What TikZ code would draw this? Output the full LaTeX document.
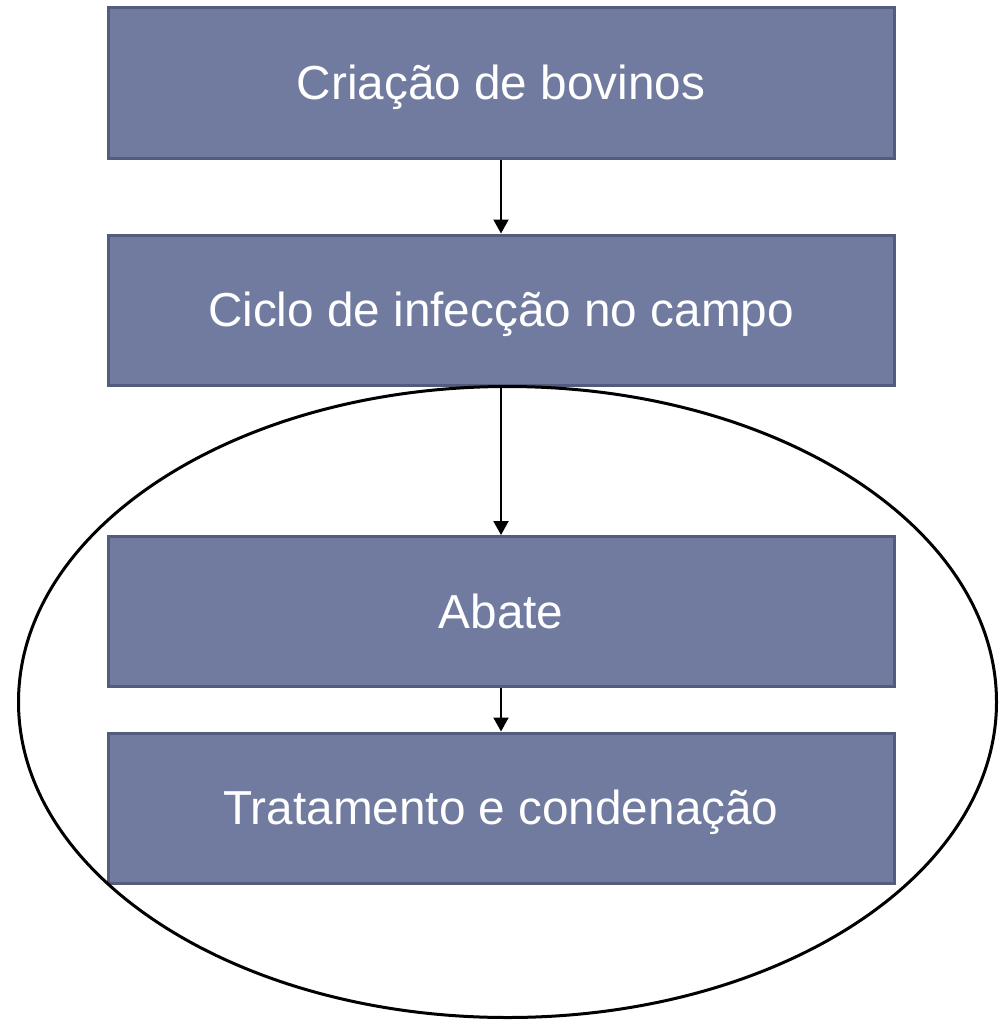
\documentclass[tikz,border=0pt]{standalone}
\usepackage{fontspec}
\setmainfont{Liberation Sans}
\usetikzlibrary{arrows.meta,shapes.geometric}
\definecolor{boxfill}{RGB}{113,123,160}
\definecolor{boxline}{RGB}{84,92,126}
\begin{document}
\begin{tikzpicture}[x=1pt,y=-1pt,
  stepbox/.style={draw=boxline,line width=3pt,fill=boxfill,minimum width=786pt,minimum height=150pt,inner sep=0pt,text height=40pt,text depth=7pt,text=white,font=\fontsize{47.7}{56}\selectfont,anchor=center},
  conn/.style={line width=2pt,-{Triangle[width=15pt,length=14pt]}}]
\useasboundingbox (0,0) rectangle (1000,1022);
\node[stepbox] (b1) at (501,83) {Criação de bovinos};
\node[stepbox] (b2) at (501,310) {Ciclo de infecção no campo};
\node[stepbox] (b3) at (501,611.5) {Abate};
\node[stepbox] (b4) at (501,808) {Tratamento e condenação};
\node[draw=black,line width=3pt,ellipse,minimum width=978pt,minimum height=631pt,inner sep=0pt] (e) at (507.5,702) {};
\draw[conn] (b1.south) -- (b2.north);
\draw[conn] (b2.south) -- (b3.north);
\draw[conn] (b3.south) -- (b4.north);
\end{tikzpicture}
\end{document}
